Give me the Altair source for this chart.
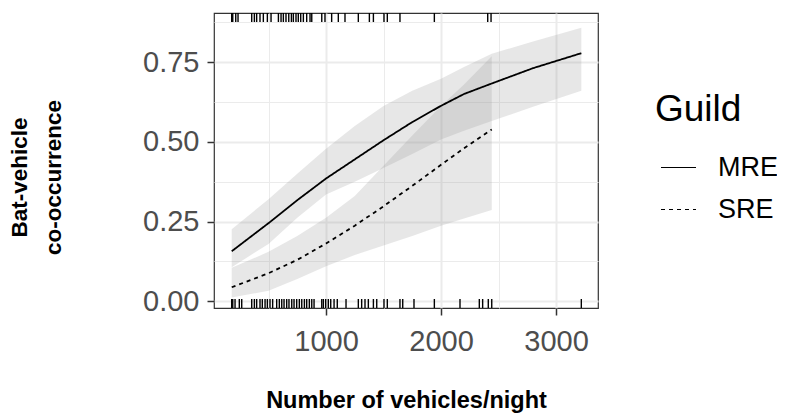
import altair as alt
import pandas as pd

# ---- fitted curves ----
mre_x = [180, 500, 750, 1000, 1250, 1500, 1750, 2000, 2200, 2441, 2800, 3220]
mre_fit = [0.157, 0.245, 0.317, 0.385, 0.445, 0.505, 0.562, 0.613, 0.650, 0.683, 0.731, 0.778]
mre_lo = [0.107, 0.180, 0.262, 0.335, 0.375, 0.418, 0.462, 0.507, 0.535, 0.565, 0.610, 0.660]
mre_hi = [0.226, 0.320, 0.400, 0.478, 0.550, 0.612, 0.660, 0.698, 0.735, 0.776, 0.815, 0.858]

sre_x = [180, 500, 750, 1000, 1250, 1500, 1750, 2000, 2200, 2441]
sre_fit = [0.044, 0.088, 0.130, 0.181, 0.237, 0.298, 0.362, 0.428, 0.480, 0.539]
sre_lo = [0.012, 0.033, 0.070, 0.110, 0.145, 0.175, 0.205, 0.237, 0.260, 0.286]
sre_hi = [0.105, 0.155, 0.205, 0.262, 0.330, 0.425, 0.520, 0.612, 0.680, 0.768]

# ---- rug observations (y = 1 top, y = 0 bottom) ----
rug_top = [180, 189, 215, 235, 354, 377, 397, 426, 455, 490, 522, 586, 609, 629,
           652, 676, 699, 716, 739, 759, 780, 803, 832, 861, 876, 963, 991, 1049,
           1107, 1165, 1281, 1377, 1412, 1504, 1533, 1643, 1942, 2406, 2435]
rug_bottom = [180, 189, 209, 246, 267, 354, 377, 397, 426, 446, 470, 490, 513, 536,
              571, 594, 615, 635, 658, 678, 702, 722, 745, 768, 789, 812, 832, 855,
              876, 896, 963, 977, 997, 1020, 1041, 1070, 1098, 1174, 1281, 1310, 1339,
              1368, 1412, 1441, 1504, 1533, 1643, 1667, 1765, 1942, 2165, 2333, 2362,
              2411, 2441, 3220]

guilds = ["MRE", "SRE"]
x_ticks = [500, 1000, 1500, 2000, 2500, 3000]
y_ticks = [0, 0.125, 0.25, 0.375, 0.5, 0.625, 0.75, 0.875]

rows = []
for g, xs, f, lo, hi in [("MRE", mre_x, mre_fit, mre_lo, mre_hi),
                         ("SRE", sre_x, sre_fit, sre_lo, sre_hi)]:
    for i in range(len(xs)):
        rows.append({"guild": g, "x": xs[i], "fit": f[i], "lo": lo[i], "hi": hi[i]})
df = pd.DataFrame(rows)
top_df = pd.DataFrame({"x": rug_top})
bot_df = pd.DataFrame({"x": rug_bottom})

W, H = 384, 295
FONT = "Liberation Sans"

xscale = alt.Scale(domain=[26, 3365], nice=False, zero=False)
yscale = alt.Scale(domain=[-0.021, 0.904], nice=False, zero=False)

x_axis = alt.Axis(
    values=x_ticks, format="d",
    labelExpr="datum.value % 1000 === 0 ? datum.label : ''",
    tickOpacity={"condition": {"test": "datum.value % 1000 !== 0", "value": 0}, "value": 1},
    gridWidth={"condition": {"test": "datum.value % 1000 !== 0", "value": 1}, "value": 2},
    labelPadding=12, titleY=99.5, titleBaseline="alphabetic", titleFontSize=23.5,
)
y_axis = alt.Axis(
    values=y_ticks, format=".2f",
    labelExpr="abs(datum.value*4 - round(datum.value*4)) < 0.01 ? datum.label : ''",
    tickOpacity={"condition": {"test": "abs(datum.value*4 - round(datum.value*4)) > 0.01", "value": 0}, "value": 1},
    gridWidth={"condition": {"test": "abs(datum.value*4 - round(datum.value*4)) > 0.01", "value": 1}, "value": 2},
    labelPadding=8, titleAngle=270, titleX=-194.5, titleY=164, titleAlign="center",
    titleBaseline="middle", titleLineHeight=34, titleFontSize=22.5,
)

X_TITLE = "Number of vehicles/night"
Y_TITLE = ["Bat-vehicle", "co-occurrence"]


def xenc():
    return alt.X("x:Q", scale=xscale, axis=x_axis, title=X_TITLE)


bands = alt.Chart(df).mark_area(color="#999999", opacity=0.23).encode(
    x=xenc(),
    y=alt.Y("lo:Q", scale=yscale, axis=y_axis, title=Y_TITLE),
    y2="hi:Q",
    detail="guild:N",
)

lines = alt.Chart(df).mark_line(color="black", strokeWidth=1.8).encode(
    x=xenc(),
    y=alt.Y("fit:Q", scale=yscale, axis=y_axis, title=Y_TITLE),
    strokeDash=alt.StrokeDash(
        "guild:N",
        scale=alt.Scale(domain=guilds, range=[[1, 0], [4, 4]]),
        legend=alt.Legend(
            orient="none", legendX=441, legendY=79, title="Guild",
            titleFont=FONT, titleFontSize=37, titleFontWeight="normal", titleColor="black",
            labelFont=FONT, labelFontSize=27, labelColor="black",
            symbolType="stroke", symbolSize=1225, symbolStrokeWidth=1.2,
            symbolStrokeColor="black", symbolOffset=5, labelOffset=21,
            rowPadding=10, titlePadding=20, padding=0,
        ),
    ),
)

rug_t = alt.Chart(top_df).mark_rule(color="black", strokeWidth=1.4).encode(
    x=xenc(), y=alt.value(0), y2=alt.value(9)
)
rug_b = alt.Chart(bot_df).mark_rule(color="black", strokeWidth=1.4).encode(
    x=xenc(), y=alt.value(H), y2=alt.value(H - 9)
)

chart = (
    alt.layer(bands, lines, rug_t, rug_b)
    .properties(
        width=W, height=H,
        autosize=alt.AutoSizeParams(type="none"),
        padding={"left": 206, "top": 5, "right": 179, "bottom": 106},
    )
    .configure_view(stroke="#333333", strokeWidth=1.2)
    .configure_axis(
        domain=False, gridColor="#EBEBEB", tickColor="#333333", tickSize=7, tickWidth=1.5,
        labelColor="#4D4D4D", labelFont=FONT, labelFontSize=29,
        titleFont=FONT, titleFontWeight="bold", titleColor="black",
    )
)

chart.save("out.html", embed_options={"renderer": "svg", "actions": False})
